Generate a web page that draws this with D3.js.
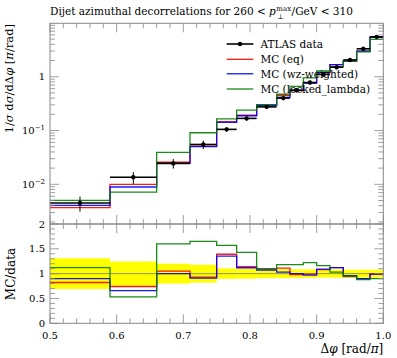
<!DOCTYPE html>
<html><head><meta charset="utf-8">
<script src="https://cdn.jsdelivr.net/npm/d3@7"></script>
<style>
body{margin:0;background:#fff;}
svg text{font-family:"DejaVu Serif",serif;fill:#000;}
</style></head>
<body><svg id="c" width="397" height="358"></svg>
<script>
const binEdges = [0.5,0.59,0.66,0.71,0.75,0.78,0.81,0.84,0.86,0.88,0.90,0.92,0.94,0.96,0.98,1.0];
const dataVals = [0.0045,0.0135,0.0245,0.055,0.105,0.168,0.275,0.40,0.56,0.78,1.10,1.50,2.05,3.3,5.5];
const dataErr  = [0.31,0.245,0.20,0.18,0.105,0.10,0.09,0.09,0.085,0.085,0.08,0.08,0.08,0.08,0.08];
const mcEq     = [0.0037,0.0100,0.0257,0.0512,0.146,0.192,0.300,0.444,0.549,0.772,1.188,1.68,1.927,2.97,5.445];
const mcWz     = [0.00405,0.00891,0.0245,0.0501,0.142,0.188,0.294,0.412,0.56,0.757,1.199,1.68,1.968,2.97,5.445];
const mcLocked = [0.00504,0.00716,0.0392,0.0908,0.165,0.240,0.3025,0.472,0.661,0.952,1.276,1.545,1.948,2.904,4.95];
const seriesNames = ["ATLAS data","MC (eq)","MC (wz-weighted)","MC (locked_lambda)"];
const seriesColors = ["#000000","#ff0000","#0000ff","#008000"];
const xTicks = [0.5,0.6,0.7,0.8,0.9,1.0];
const ratioTicks = [0,0.5,1,1.5,2];
const logTicks = [0.01,0.1,1];

const svg = d3.select("#c");
const X0=50, X1=383.3, YT=23.3, YB=224, RB=323.3;
const x = d3.scaleLinear().domain([0.5,1.0]).range([X0,X1]);
const y = d3.scaleLog().domain([0.00183,9.83]).range([YB,YT]);
const yr = d3.scaleLinear().domain([0,2]).range([RB,YB]);

// title
(function(){
  const fsT=10.5;
  const t1=svg.append("text").attr("x",X0).attr("y",15).attr("font-size",fsT).text("Dijet azimuthal decorrelations for 260 <\u00a0");
  let cx = X0 + t1.node().getComputedTextLength();
  const tp=svg.append("text").attr("x",cx).attr("y",15).attr("font-size",fsT).attr("font-style","italic").text("p");
  cx += tp.node().getComputedTextLength()+0.5;
  const tm=svg.append("text").attr("x",cx).attr("y",10.5).attr("font-size",7).text("max");
  svg.append("text").attr("x",cx+1).attr("y",18.5).attr("font-size",7).text("⊥");
  cx += tm.node().getComputedTextLength()+0.5;
  svg.append("text").attr("x",cx).attr("y",15).attr("font-size",fsT).text("/GeV < 310");
})();

// ratio band
const ratioBand = svg.append("g");
dataVals.forEach((d,i)=>{
  ratioBand.append("rect").attr("x",x(binEdges[i])).attr("width",x(binEdges[i+1])-x(binEdges[i]))
    .attr("y",yr(1+dataErr[i])).attr("height",yr(1-dataErr[i])-yr(1+dataErr[i])).attr("fill","#ffff00");
});
svg.append("line").attr("x1",X0).attr("x2",X1).attr("y1",yr(1)).attr("y2",yr(1)).attr("stroke","#777").attr("stroke-width",0.8);

function stepPath(vals, sc){
  let p = "";
  vals.forEach((v,i)=>{
    const xa=x(binEdges[i]), xb=x(binEdges[i+1]), yy=sc(v);
    p += (i===0?"M":"L")+xa+","+yy+"L"+xb+","+yy;
  });
  return p;
}
const mcs=[mcEq,mcWz,mcLocked];
mcs.forEach((m,k)=>{
  svg.append("path").attr("d",stepPath(m,y)).attr("fill","none").attr("stroke",seriesColors[k+1]).attr("stroke-width",1.3).attr("opacity",0.9);
});
mcs.forEach((m,k)=>{
  const r = m.map((v,i)=>v/dataVals[i]);
  svg.append("path").attr("d",stepPath(r,yr)).attr("fill","none").attr("stroke",seriesColors[k+1]).attr("stroke-width",1.3).attr("opacity",0.9);
});
// data
dataVals.forEach((d,i)=>{
  const xc=(x(binEdges[i])+x(binEdges[i+1]))/2;
  svg.append("line").attr("x1",x(binEdges[i])).attr("x2",x(binEdges[i+1])).attr("y1",y(d)).attr("y2",y(d)).attr("stroke","#000").attr("stroke-width",1.6);
  svg.append("line").attr("x1",xc).attr("x2",xc).attr("y1",y(d*(1+dataErr[i]))).attr("y2",y(d*(1-dataErr[i]))).attr("stroke","#000").attr("stroke-width",1);
  svg.append("circle").attr("cx",xc).attr("cy",y(d)).attr("r",2.2).attr("fill","#000");
});

// frames
const gray="#888";
[[YT,YB],[YB,RB]].forEach(([a,b])=>{
  svg.append("rect").attr("x",X0).attr("y",a).attr("width",X1-X0).attr("height",b-a).attr("fill","none").attr("stroke",gray).attr("stroke-width",1);
});
function tk(x1,y1,x2,y2){svg.append("line").attr("x1",x1).attr("y1",y1).attr("x2",x2).attr("y2",y2).attr("stroke",gray).attr("stroke-width",0.8);}
d3.range(0,26).forEach(j=>{
  const v=0.5+j*0.02, px=x(v), major = (j%5===0);
  const L = major?9:5;
  tk(px,YT,px,YT+L); tk(px,YB,px,YB-L); tk(px,YB,px,YB+L); tk(px,RB,px,RB-L);
});
for(let e=-3;e<=0;e++){
  for(let m=1;m<=9;m++){
    const v=m*Math.pow(10,e);
    if(v<0.00183||v>9.83) continue;
    const L = m===1?9:5;
    tk(X0,y(v),X0+L,y(v)); tk(X1,y(v),X1-L,y(v));
  }
}
d3.range(0,21).forEach(j=>{
  const v=j*0.1, L=(j%5===0)?9:5;
  tk(X0,yr(v),X0+L,yr(v)); tk(X1,yr(v),X1-L,yr(v));
});
// labels
const fs=10;
logTicks.forEach(v=>{
  const t=svg.append("text").attr("x",45).attr("y",y(v)+3.5).attr("text-anchor","end").attr("font-size",fs);
  if(v===1){t.text("1");}
  else{ t.append("tspan").text("10"); t.append("tspan").attr("font-size",7).attr("dy",-4).text("−"+Math.round(-Math.log10(v))); }
});
ratioTicks.forEach(v=>{
  svg.append("text").attr("x",45).attr("y",yr(v)+3.5).attr("text-anchor","end").attr("font-size",fs).text(v);
});
xTicks.forEach(v=>{
  svg.append("text").attr("x",x(v)).attr("y",339).attr("text-anchor","middle").attr("font-size",fs).text(v.toFixed(1));
});
svg.append("text").attr("x",X1).attr("y",353).attr("text-anchor","end").attr("font-size",12)
  .html('Δ<tspan font-style="italic">φ</tspan> [rad/<tspan font-style="italic">π</tspan>]');
svg.append("text").attr("transform","translate(13,24) rotate(-90)").attr("text-anchor","end").attr("font-size",11.5)
  .html('1/<tspan font-style="italic">σ</tspan> d<tspan font-style="italic">σ</tspan>/dΔ<tspan font-style="italic">φ</tspan> [<tspan font-style="italic">π</tspan>/rad]');
svg.append("text").attr("transform","translate(15,274) rotate(-90)").attr("text-anchor","middle").attr("font-size",12).text("MC/data");

// legend
const ly=[44,59.3,73.8,89];
seriesNames.forEach((n,k)=>{
  svg.append("line").attr("x1",226.7).attr("x2",253.3).attr("y1",ly[k]).attr("y2",ly[k]).attr("stroke",seriesColors[k]).attr("stroke-width",k===0?1.6:1.2);
  if(k===0) svg.append("circle").attr("cx",240).attr("cy",ly[k]).attr("r",2.2).attr("fill","#000");
  svg.append("text").attr("x",260.5).attr("y",ly[k]+4).attr("font-size",10.5).text(n);
});
</script></body></html>
